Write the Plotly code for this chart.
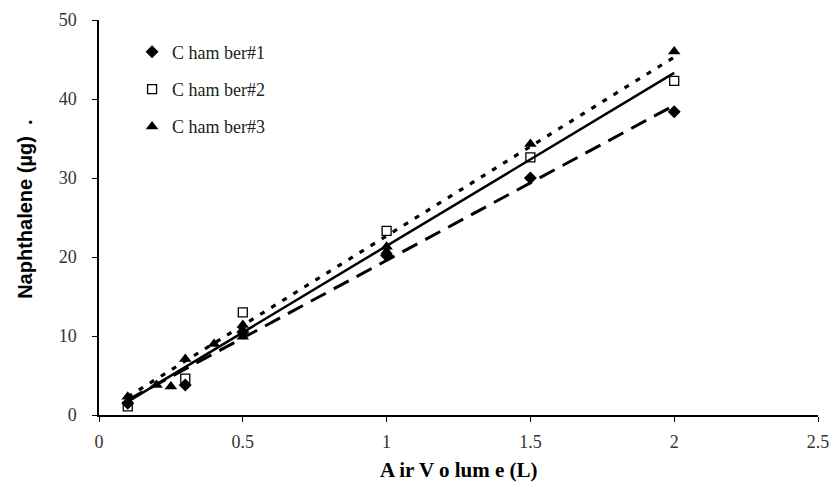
import plotly.graph_objects as go

# Chamber data (Air volume L, Naphthalene ug)
ch1_x = [0.1, 0.3, 0.5, 1.0, 1.5, 2.0]
ch1_y = [1.5, 3.8, 10.5, 20.2, 30.0, 38.4]

ch2_x = [0.1, 0.3, 0.5, 1.0, 1.5, 2.0]
ch2_y = [1.1, 4.6, 13.0, 23.3, 32.6, 42.3]

ch3_x = [0.1, 0.2, 0.25, 0.3, 0.4, 0.5, 0.5, 1.0, 1.0, 1.5, 2.0]
ch3_y = [2.3, 3.8, 3.6, 7.1, 9.0, 11.4, 9.9, 21.3, 20.7, 34.3, 46.0]

# Linear trend line end points
tr1_x = [0.1, 2.0]
tr1_y = [1.9, 39.2]
tr2_x = [0.1, 2.0]
tr2_y = [1.7, 43.3]
tr3_x = [0.1, 2.0]
tr3_y = [2.3, 45.3]

names = ["C ham ber#1", "C ham ber#2", "C ham ber#3"]
x_ticks = [0, 0.5, 1, 1.5, 2, 2.5]
x_tick_text = ["0", "0.5", "1", "1.5", "2", "2.5"]
y_ticks = [0, 10, 20, 30, 40, 50]

serif = "Liberation Serif, DejaVu Serif, serif"

fig = go.Figure()

# trend lines
fig.add_trace(go.Scatter(x=tr1_x, y=tr1_y, mode="lines", showlegend=False,
                         line=dict(color="black", width=3, dash="17px,9px")))
fig.add_trace(go.Scatter(x=tr2_x, y=tr2_y, mode="lines", showlegend=False,
                         line=dict(color="black", width=2.5)))
fig.add_trace(go.Scatter(x=tr3_x, y=tr3_y, mode="lines", showlegend=False,
                         line=dict(color="black", width=3.2, dash="5px,8px")))

fig.add_trace(go.Scatter(x=ch1_x, y=ch1_y, mode="markers", name=names[0], legendgroup="a",
                         marker=dict(symbol="diamond", size=10, color="black")))
fig.add_trace(go.Scatter(x=ch2_x, y=ch2_y, mode="markers", name=names[1], legendgroup="b",
                         marker=dict(symbol="square-open", size=9, color="black",
                                     line=dict(width=1.3, color="black"))))
fig.add_trace(go.Scatter(x=ch3_x, y=ch3_y, mode="markers", name=names[2], legendgroup="c",
                         marker=dict(symbol="triangle-up", size=11, color="black")))

fig.update_layout(
    width=833, height=487,
    margin=dict(l=99, r=15, t=20, b=72),
    paper_bgcolor="white", plot_bgcolor="white",
    showlegend=True,
    legend=dict(x=0.046, y=0.966, xanchor="left", yanchor="top",
                font=dict(family=serif, size=18, color="#222"),
                tracegroupgap=11, bgcolor="rgba(0,0,0,0)", itemwidth=30),
    xaxis=dict(range=[0, 2.5], tickvals=x_ticks, ticktext=x_tick_text,
               showline=True, linecolor="black", linewidth=1.5,
               ticks="outside", ticklen=5, tickcolor="black", tickwidth=1,
               showgrid=False, zeroline=False, automargin=False,
               tickfont=dict(family=serif, size=18, color="#333"),
               ticklabelstandoff=5),
    yaxis=dict(range=[0, 50], tickvals=y_ticks,
               showline=True, linecolor="black", linewidth=1.5,
               ticks="outside", ticklen=5, tickcolor="black", tickwidth=1,
               showgrid=False, zeroline=False, automargin=False,
               tickfont=dict(family=serif, size=18, color="#333"),
               ticklabelstandoff=12),
    # overlay axes only to draw the inner half of the crossing tick marks
    xaxis2=dict(range=[0, 2.5], tickvals=x_ticks, overlaying="x", anchor="y",
                side="bottom", ticks="inside", ticklen=5, tickcolor="black",
                showticklabels=False, showgrid=False, zeroline=False, showline=False),
    yaxis2=dict(range=[0, 50], tickvals=y_ticks, overlaying="y", anchor="x",
                side="left", ticks="inside", ticklen=6, tickcolor="black",
                showticklabels=False, showgrid=False, zeroline=False, showline=False),
    annotations=[
        dict(text="A ir V o lum e (L)", xref="paper", yref="paper",
             x=0.50, y=-0.139, xanchor="center", yanchor="middle", showarrow=False,
             font=dict(family=serif, size=21, color="black", weight="bold")),
        dict(text="Naphthalene (µg)  .", xref="paper", yref="paper",
             x=-0.104, y=0.52, xanchor="center", yanchor="middle", showarrow=False,
             textangle=-90,
             font=dict(family="Liberation Sans, Arial, sans-serif", size=20,
                       color="black", weight="bold")),
    ],
)

fig.write_html("out.html")
